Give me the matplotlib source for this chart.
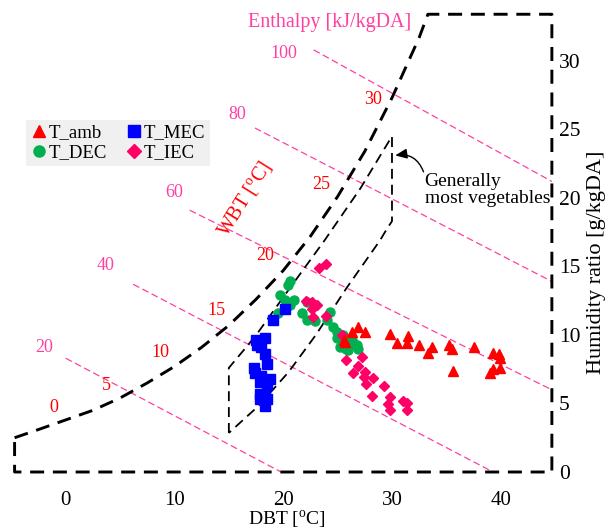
import matplotlib
matplotlib.use('Agg')
import matplotlib.pyplot as plt
from matplotlib.lines import Line2D

plt.rcParams['font.family'] = ['Liberation Serif', 'DejaVu Serif']
plt.rcParams['mathtext.fontset'] = 'custom'
plt.rcParams['mathtext.rm'] = 'Liberation Serif'

# --- data (DBT in C, humidity ratio in g/kgDA) ---
# saturation curve (outer boundary)
sat_T = [-4.7, -2.5, 0, 2.5, 5, 7.5, 10, 12.5, 15, 17.5, 20, 22.5, 25, 27.5, 30, 32.5, 33.3]
sat_w = [2.5, 3.1, 3.8, 4.5, 5.4, 6.5, 7.7, 9.1, 10.7, 12.6, 14.7, 17.2, 20.1, 23.4, 27.3, 31.7, 33.4]
# rest of the outer boundary: top -> right -> bottom -> left
box_T = [33.3, 44.7, 44.7, -4.7, -4.7]
box_w = [33.4, 33.4, 0, 0, 2.5]

# "generally most vegetables" region
veg_T = [15, 15, 16.8, 17.7, 20.5, 23.8, 27.1, 30, 30, 29.5, 28.9, 25.8, 23.0, 20.5, 17.7, 15]
veg_w = [2.85, 7.6, 9.3, 10.2, 13.3, 16.9, 20.7, 24.5, 18.3, 17.7, 16.9, 13.4, 10.0, 7.3, 4.8, 2.85]

# enthalpy lines (kJ/kgDA): start and end points
h_vals = [20, 40, 60, 80, 100]
h_T0 = [0.0, 6.2, 11.4, 17.4, 22.8]
h_w0 = [8.3, 13.7, 19.1, 25.1, 30.8]
h_T1 = [19.8, 39.3, 44.7, 44.7, 44.7]
h_w1 = [0.0, 0.0, 6.0, 13.9, 21.2]
h_lab_T = [-2.0, 3.7, 10.0, 15.8, 20.1]
h_lab_w = [9.1, 15.1, 20.4, 26.1, 30.5]

# wet bulb labels
wbt_vals = [0, 5, 10, 15, 20, 25, 30]
wbt_lab_T = [-1.1, 3.7, 8.7, 13.9, 18.3, 23.5, 28.3]
wbt_lab_w = [4.7, 6.3, 8.7, 11.8, 15.8, 21.0, 27.2]

# measured states
amb_T = [26.9, 26.3, 27.5, 25.7, 29.8, 31.5, 30.5, 31.4, 32.5, 33.7, 33.3, 35.2, 35.5, 35.6,
         37.5, 39.3, 39.8, 39.9, 39.3, 39.0, 39.9, 25.6]
amb_w = [10.6, 10.2, 10.2, 9.5, 10.1, 9.9, 9.4, 9.4, 9.3, 9.15, 8.7, 9.3, 9.0, 7.4,
         9.1, 8.7, 8.6, 8.3, 7.5, 7.2, 7.6, 9.6]
dec_T = [20.6, 20.4, 19.7, 20.2, 21.0, 20.6, 19.5, 22.2, 21.7, 22.2, 22.9, 24.3, 24.0, 24.6,
         24.9, 25.5, 24.9, 25.2, 25.8, 26.3, 26.8, 26.9, 26.1, 25.7, 26.0]
dec_w = [13.9, 13.65, 12.9, 12.55, 12.55, 12.2, 11.6, 12.4, 11.6, 11.1, 11.0, 11.7, 11.1, 10.6,
         10.2, 10.0, 9.8, 9.15, 9.0, 9.6, 9.3, 9.0, 9.3, 9.8, 8.9]
mec_T = [20.2, 19.1, 18.3, 17.6, 18.0, 18.3, 18.5, 17.3, 17.4, 18.0, 18.8, 17.9, 18.5, 17.9,
         18.3, 18.5, 17.9, 18.3, 17.5]
mec_w = [11.9, 11.1, 9.8, 9.3, 9.1, 8.6, 7.9, 7.6, 7.2, 7.0, 6.8, 6.6, 6.35, 5.7,
         5.6, 5.3, 5.3, 4.8, 9.6]
iec_T = [23.3, 23.9, 22.1, 22.6, 23.1, 22.6, 22.7, 23.9, 25.4, 25.8, 27.2, 26.9, 26.4, 27.5,
         27.4, 28.3, 27.6, 29.3, 28.2, 29.8, 31.0, 31.4, 29.6, 29.8, 31.4]
iec_w = [14.9, 15.2, 12.5, 12.4, 12.2, 11.9, 11.3, 11.4, 10.0, 8.2, 8.4, 7.7, 7.25, 7.3,
         6.96, 6.84, 6.4, 6.28, 5.55, 5.5, 5.2, 5.06, 4.96, 4.5, 4.5]

x_ticks = [0, 10, 20, 30, 40]
y_ticks = [0, 5, 10, 15, 20, 25, 30]

pink = '#ff40a0'
red = '#ff0000'

fig = plt.figure(figsize=(6.11, 5.32), dpi=100)
ax = fig.add_axes([0.45 / 611, 53.15 / 532, 555.55 / 611, 478.3 / 532])
ax.set_xlim(-6, 45.08)
ax.set_ylim(-0.5, 34.4)
for s in ax.spines.values():
    s.set_visible(False)

# enthalpy lines + labels
for h, t0, w0, t1, w1, tl, wl in zip(h_vals, h_T0, h_w0, h_T1, h_w1, h_lab_T, h_lab_w):
    ax.plot([t0, t1], [w0, w1], color=pink, lw=0.9, ls=(0, (5.5, 2.8)), zorder=1)
    ax.text(tl, wl, str(h), color=pink, fontsize=13, ha='center', va='center')
ax.text(24.3, 32.8, 'Enthalpy [kJ/kgDA]', color=pink, fontsize=14.5, ha='center', va='center')

# wet bulb labels
for v, tl, wl in zip(wbt_vals, wbt_lab_T, wbt_lab_w):
    ax.text(tl, wl, str(v), color=red, fontsize=13, ha='center', va='center')
ax.text(16.5, 19.9, r'WBT [$^{\mathrm{o}}$C]', color=red, fontsize=14.5, rotation=58,
        ha='center', va='center')

# outer boundary (saturation curve + box)
dash_outer = (0, (4.8, 3.0))
ax.plot(sat_T + box_T, sat_w + box_w, color='k', lw=2.1, ls=dash_outer, clip_on=False, zorder=2)

# vegetables region
ax.plot(veg_T, veg_w, color='k', lw=1.3, ls=(0, (5.5, 3.3)), zorder=2)
ax.annotate('', xy=(30.3, 23.1), xytext=(32.9, 21.9),
            arrowprops=dict(arrowstyle='-|>,head_length=0.7,head_width=0.3', color='k', lw=1.0,
                            connectionstyle='arc3,rad=0.4', shrinkA=0, shrinkB=0))
ax.text(33.0, 20.6, 'Generally\nmost vegetables', fontsize=14, ha='left', va='center',
        linespacing=1.0)

# measured states
ms = 6.5
ax.plot(amb_T, amb_w, '^', color=red, ms=ms, ls='none', zorder=5)
ax.plot(dec_T, dec_w, 'o', color='#00b050', ms=ms, ls='none', zorder=3)
ax.plot(mec_T, mec_w, 's', color='#0000ff', ms=ms, ls='none', zorder=3)
ax.plot(iec_T, iec_w, 'D', color='#ff0066', ms=5.5, ls='none', zorder=4)

handles = [Line2D([], [], marker='^', color=red, ls='none', ms=8),
           Line2D([], [], marker='o', color='#00b050', ls='none', ms=8),
           Line2D([], [], marker='s', color='#0000ff', ls='none', ms=8),
           Line2D([], [], marker='D', color='#ff0066', ls='none', ms=7)]
labels = ['T_amb', 'T_DEC', 'T_MEC', 'T_IEC']
leg = ax.legend(handles, labels, ncol=2, loc='upper left', bbox_to_anchor=(26 / 555.55, 1 - 119 / 478.3),
                fontsize=13.5, frameon=True, facecolor='#f0f0f0', edgecolor='none', framealpha=1,
                fancybox=False, handlelength=0.8, handletextpad=0.15, columnspacing=1.0,
                borderpad=0.25, labelspacing=0.15, borderaxespad=0)

# axes ticks
ax.set_xticks(x_ticks)
ax.set_yticks(y_ticks)
ax.yaxis.tick_right()
ax.tick_params(axis='x', length=0, pad=9, labelsize=15)
ax.tick_params(axis='y', length=0, pad=2, labelsize=15.5)

fig.text(287 / 611, 1 - 520 / 532, r'DBT [$^{\mathrm{o}}$C]', fontsize=14, ha='center', va='center')
fig.text(597 / 611, 1 - 262 / 532, 'Humidity ratio [g/kgDA]', fontsize=16, rotation=90,
         ha='center', va='center')

fig.savefig('out.png', dpi=100)
